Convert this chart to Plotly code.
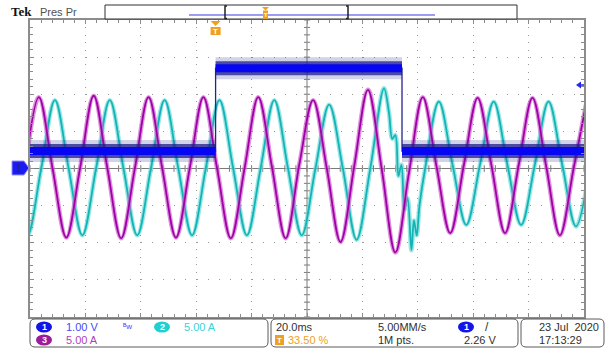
import plotly.graph_objects as go

# ---------------- data ----------------
# time axis: 20 ms/div, 10 div, trigger at 33.5 % of record
x_range_ms = [-67, 133]
# channel 1 (V, 1 V/div): noisy pulse
ch1_t = [-67, 0, 0, 67.3, 67.3, 133]
ch1_v = [0.47, 0.47, 2.70, 2.70, 0.47, 0.47]

# channel 3 (A, 5 A/div): magenta current
ch3_t = [-68.75, -63.8, -58.85, -53.9, -48.95, -44.0, -39.05, -34.1, -29.15, -24.2,
         -19.25, -14.3, -9.35, -4.4, 0.55, 5.5, 10.45, 15.4, 20.35, 25.3,
         30.25, 35.2, 40.15, 45.1, 50.05, 55.0, 59.95, 64.9, 69.85, 74.8,
         79.75, 84.7, 89.65, 94.6, 99.55, 104.5, 109.45, 114.4, 119.35, 124.3,
         129.25, 134.2]
ch3_a = [0.0, 9.6, 0.0, -9.3, 0.0, 9.8, 0.0, -9.4, 0.0, 9.6,
         0.0, -9.3, 0.0, 9.6, 0.0, -9.4, 0.0, 9.6, 0.2, -9.4,
         0.6, 9.2, 0.0, -9.9, 0.3, 10.6, 0.0, -11.3, -0.5, 9.6,
         0.3, -8.7, 0.5, 9.5, 0.5, -8.7, 0.5, 9.5, 0.3, -9.0,
         0.0, 9.5]

# channel 2 (A, 5 A/div): cyan current
ch2_t = [-72.85, -67.9, -62.95, -58.0, -53.05, -48.1, -43.15, -38.2, -33.25, -28.3,
         -23.35, -18.4, -13.45, -8.5, -3.55, 1.4, 6.35, 11.3, 16.25, 21.2,
         26.15, 31.1, 36.05, 41.0, 45.95, 50.9, 55.85, 60.8, 62.6, 63.8,
         64.9, 66.0, 67.1, 68.2, 69.3, 70.7, 71.6, 72.6, 73.6, 75.65,
         80.6, 85.55, 90.5, 95.45, 100.4, 105.35, 110.3, 115.25, 120.2, 125.15,
         130.1, 135.05]
ch2_a = [0.0, -9.0, 0.0, 9.2, 0.0, -9.0, 0.0, 9.2, 0.0, -9.0,
         0.0, 9.2, 0.0, -9.0, 0.0, 9.2, 0.0, -9.0, 0.0, 9.2,
         0.0, -9.0, 0.0, 8.6, 0.0, -9.6, 0.0, 10.8, 7.5, 4.0,
         4.5, -1.0, 0.5, -5.5, -4.0, -11.0, -7.0, -9.0, -5.0, 0.0,
         9.0, 0.5, -7.6, 0.5, 9.0, 0.5, -7.6, 0.5, 9.0, 0.5,
         -7.8, 0.0]

# readout texts
ch1_scale = "1.00 V"
ch2_scale = "5.00 A"
ch3_scale = "5.00 A"
timebase = "20.0ms"
sample_rate = "5.00MM/s"
trig_pos = "33.50 %"
rec_len = "1M pts."
trig_level = "2.26 V"
date_txt = "23 Jul\u00a0\u00a02020"
time_txt = "17:13:29"

# ---------------- figure ----------------
W, H = 605, 348
L, R, T, B = 30, 584, 20, 317
PW, PH = R - L, B - T


def PX(x):
    return (x - L) / PW


def PY(y):
    return (B - y) / PH


FONT = "Liberation Sans Narrow, Arial Narrow, Liberation Sans, sans-serif"

fig = go.Figure()

# cyan (ch2) on current axis
fig.add_trace(go.Scatter(x=ch2_t, y=ch2_a, mode="lines", yaxis="y",
                         line=dict(color="rgba(110,220,220,0.7)", width=4.5, shape="spline", smoothing=1.0),
                         hoverinfo="skip", showlegend=False))
fig.add_trace(go.Scatter(x=ch2_t, y=ch2_a, mode="lines", yaxis="y",
                         line=dict(color="#14b4b4", width=1.8, shape="spline", smoothing=1.0),
                         hoverinfo="skip", showlegend=False))
# magenta (ch3)
fig.add_trace(go.Scatter(x=ch3_t, y=ch3_a, mode="lines", yaxis="y",
                         line=dict(color="rgba(205,100,205,0.7)", width=4.5, shape="spline", smoothing=1.0),
                         hoverinfo="skip", showlegend=False))
fig.add_trace(go.Scatter(x=ch3_t, y=ch3_a, mode="lines", yaxis="y",
                         line=dict(color="#a000a8", width=1.8, shape="spline", smoothing=1.0),
                         hoverinfo="skip", showlegend=False))

# ch1 band segments (horizontal runs only)
band_t, band_v = [], []
for i in range(len(ch1_t) - 1):
    if ch1_t[i] != ch1_t[i + 1]:
        band_t += [ch1_t[i], ch1_t[i + 1], None]
        band_v += [ch1_v[i], ch1_v[i + 1], None]

fig.add_trace(go.Scatter(x=ch1_t, y=ch1_v, mode="lines", yaxis="y2",
                         line=dict(color="#24248a", width=1.3),
                         hoverinfo="skip", showlegend=False))
for col, wd in [("rgba(50,50,150,0.22)", 22), ("rgba(30,30,140,0.75)", 14), ("#0606f2", 8)]:
    fig.add_trace(go.Scatter(x=band_t, y=band_v, mode="lines", yaxis="y2",
                             line=dict(color=col, width=wd), connectgaps=False,
                             hoverinfo="skip", showlegend=False))

axis_common = dict(showticklabels=False, showline=True, linecolor="#8c8c8c", linewidth=2,
                   mirror="ticks", ticks="inside", tickcolor="#8c8c8c", zeroline=False,
                   showgrid=True, gridcolor="#9a9a9a", gridwidth=1)

fig.update_layout(
    width=W, height=H,
    margin=dict(l=L, r=W - R, t=T, b=H - B, pad=0),
    paper_bgcolor="white", plot_bgcolor="white",
    xaxis=dict(range=x_range_ms, tick0=x_range_ms[0], dtick=20, ticklen=4, griddash="1px,6.4px",
               minor=dict(tick0=x_range_ms[0], dtick=4, ticks="inside", ticklen=3, tickcolor="#8c8c8c",
                          showgrid=False), **axis_common),
    yaxis=dict(range=[-20, 20], tick0=0, dtick=5, ticklen=4, griddash="1px,10.1px",
               minor=dict(tick0=0, dtick=1, ticks="inside", ticklen=3, tickcolor="#8c8c8c",
                          showgrid=False), **axis_common),
    yaxis2=dict(range=[-4, 4], overlaying="y", visible=False),
    showlegend=False,
)

shapes = []
xc = (x_range_ms[0] + x_range_ms[1]) / 2
# centre crosshair
shapes.append(dict(type="line", xref="x", yref="y", x0=x_range_ms[0], x1=x_range_ms[1], y0=0, y1=0,
                   line=dict(color="#7a7a7a", width=1), layer="below"))
shapes.append(dict(type="line", xref="x", yref="y", x0=xc, x1=xc, y0=-20, y1=20,
                   line=dict(color="#7a7a7a", width=1), layer="below"))
# crosshair ticks
k = 0
while x_range_ms[0] + 4 * k <= x_range_ms[1]:
    xt = x_range_ms[0] + 4 * k
    shapes.append(dict(type="line", xref="x", yref="y", x0=xt, x1=xt, y0=-0.45, y1=0.45,
                       line=dict(color="#7a7a7a", width=1), layer="below"))
    k += 1
k = 0
while -20 + k <= 20:
    yt = -20 + k
    shapes.append(dict(type="line", xref="x", yref="y", x0=xc - 1.1, x1=xc + 1.1, y0=yt, y1=yt,
                       line=dict(color="#7a7a7a", width=1), layer="below"))
    k += 1


def prect(x0, y0, x1, y1, **kw):
    return dict(type="rect", xref="paper", yref="paper", x0=PX(x0), x1=PX(x1), y0=PY(y1), y1=PY(y0), **kw)


def ppath(pts, close=True, **kw):
    d = "M " + " L ".join(f"{PX(x):.5f},{PY(y):.5f}" for x, y in pts)
    if close:
        d += " Z"
    return dict(type="path", xref="paper", yref="paper", path=d, **kw)


def rrect(x0, y0, x1, y1, r, **kw):
    rx, ry = r, r
    d = (f"M {PX(x0 + rx)},{PY(y0)} L {PX(x1 - rx)},{PY(y0)} Q {PX(x1)},{PY(y0)} {PX(x1)},{PY(y0 + ry)} "
         f"L {PX(x1)},{PY(y1 - ry)} Q {PX(x1)},{PY(y1)} {PX(x1 - rx)},{PY(y1)} "
         f"L {PX(x0 + rx)},{PY(y1)} Q {PX(x0)},{PY(y1)} {PX(x0)},{PY(y1 - ry)} "
         f"L {PX(x0)},{PY(y0 + ry)} Q {PX(x0)},{PY(y0)} {PX(x0 + rx)},{PY(y0)} Z")
    return dict(type="path", xref="paper", yref="paper", path=d, **kw)


def pellipse(cx, cy, w, h, color):
    return dict(type="circle", xref="paper", yref="paper", x0=PX(cx - w / 2), x1=PX(cx + w / 2),
                y0=PY(cy + h / 2), y1=PY(cy - h / 2), fillcolor=color, line=dict(width=0))


ORANGE = "#f0a020"
# record overview box
shapes.append(prect(105, 5, 517, 19, line=dict(color="#303030", width=1), fillcolor="white"))
shapes.append(ppath([(189, 15), (435, 15)], close=False, line=dict(color="#3a3ae0", width=1)))
for bx, dirn in [(225, 1), (348, -1)]:
    shapes.append(ppath([(bx + 2 * dirn, 6), (bx, 6), (bx, 18.5), (bx + 2 * dirn, 18.5)], close=False,
                        line=dict(color="#202020", width=1.5)))
shapes.append(ppath([(262, 7), (269, 7), (265.5, 10.5)], fillcolor=ORANGE, line=dict(width=0)))
shapes.append(prect(263, 10.5, 268, 19, fillcolor=ORANGE, line=dict(width=0)))
# trigger position marker
tx = L + (0 - x_range_ms[0]) / (x_range_ms[1] - x_range_ms[0]) * PW
shapes.append(ppath([(tx - 5, 21), (tx + 5, 21), (tx, 26)], fillcolor=ORANGE, line=dict(width=0)))
shapes.append(prect(tx - 5, 27, tx + 5, 35, fillcolor=ORANGE, line=dict(width=0)))
# channel 1 ground marker
shapes.append(ppath([(12, 161), (24, 161), (29, 168), (24, 175), (12, 175)],
                    fillcolor="#1c1cf0", line=dict(color="#9090ff", width=1)))
# trigger level arrow (right)
shapes.append(ppath([(576, 85), (581, 81.5), (581, 88.5)], fillcolor="#2828e8", line=dict(width=0)))
shapes.append(ppath([(580, 85), (584, 85)], close=False, line=dict(color="#2828e8", width=1.5)))
# readout boxes
for x0, x1 in [(30, 268), (271, 518), (521, 604)]:
    shapes.append(rrect(x0, 319, x1, 347, 5, line=dict(color="#5a5a5a", width=1), fillcolor="white"))
shapes.append(pellipse(44, 327, 16, 11, "#1414e8"))
shapes.append(pellipse(44, 340, 16, 11, "#9c1c9c"))
shapes.append(pellipse(162, 327, 16, 11, "#20d0d0"))
shapes.append(pellipse(466, 327, 16, 11, "#1414e8"))
shapes.append(prect(275, 335, 284, 345, fillcolor=ORANGE, line=dict(width=0)))

fig.update_layout(shapes=shapes)

anns = []


def txt(x, y, s, color="#303030", size=11, anchor="left", family=FONT, bold=False):
    if bold:
        s = f"<b>{s}</b>"
    anns.append(dict(x=PX(x), y=PY(y), xref="paper", yref="paper", text=s, showarrow=False,
                     xanchor=anchor, yanchor="middle", font=dict(family=family, size=size, color=color)))


txt(9, 12, "Tek", "#101010", 13, family="Liberation Serif, serif", bold=True)
txt(38, 12.5, "Pres Pr", "#505050", 11)
txt(tx, 31, "T", "white", 8, anchor="center", family="Liberation Sans, sans-serif", bold=True)
txt(265.5, 15, "T", "white", 6, anchor="center", family="Liberation Sans, sans-serif", bold=True)
txt(19, 168, "1", "#20208a", 10, anchor="center", family="Liberation Sans, sans-serif")
txt(44, 327, "1", "white", 9, anchor="center", family="Liberation Sans, sans-serif", bold=True)
txt(44, 340, "3", "white", 9, anchor="center", family="Liberation Sans, sans-serif", bold=True)
txt(162, 327, "2", "white", 9, anchor="center", family="Liberation Sans, sans-serif", bold=True)
txt(466, 327, "1", "white", 9, anchor="center", family="Liberation Sans, sans-serif", bold=True)
txt(279.5, 340, "T", "white", 8, anchor="center", family="Liberation Sans, sans-serif", bold=True)
txt(64, 327, ch1_scale, "#4848f8")
txt(121, 326, "ᴮw", "#4848f8", 8)
txt(182, 327, ch2_scale, "#38d4d4")
txt(64, 340, ch3_scale, "#b040c0")
txt(274, 327, timebase)
txt(376, 327, sample_rate)
txt(483, 327, "/", "#303030", 12)
txt(286, 340, trig_pos, ORANGE)
txt(376, 340, rec_len)
txt(462, 340, trig_level)
txt(537, 327, date_txt)
txt(537, 340, time_txt)

fig.update_layout(annotations=anns)

fig.write_html("out.html", config={"displayModeBar": False},
               post_script="document.body.style.margin='0';document.body.style.overflow='hidden';")
